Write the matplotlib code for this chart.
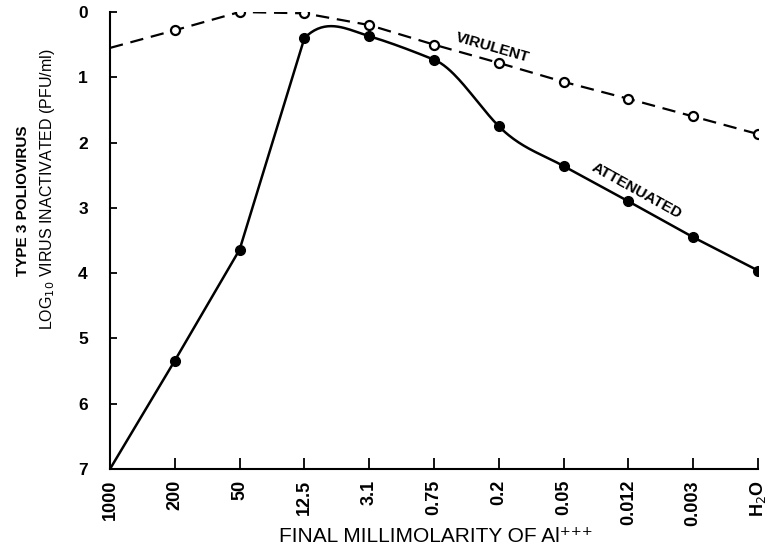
import numpy as np
import matplotlib
matplotlib.use("Agg")
import matplotlib.pyplot as plt
from matplotlib import font_manager

# ---- data ----
categories = ["1000", "200", "50", "12.5", "3.1", "0.75", "0.2", "0.05", "0.012", "0.003", "H$_2$O"]
virulent = [0.55, 0.28, 0.0, 0.02, 0.20, 0.50, 0.78, 1.07, 1.33, 1.60, 1.87]
attenuated = [7.0, 5.34, 3.64, 0.40, 0.37, 0.73, 1.75, 2.36, 2.90, 3.45, 3.96]
y_ticks = [0, 1, 2, 3, 4, 5, 6, 7]

# drawing slopes of the hand-drawn smooth part (indices 3..7) of the attenuated curve
curve_slopes = [-1.0, 0.3, 0.4, 1.0, 0.55]

plt.rcParams['font.family'] = ['Liberation Sans', 'DejaVu Sans']
names = {f.name for f in font_manager.fontManager.ttflist}
narrow = 'Liberation Sans Narrow' if 'Liberation Sans Narrow' in names else 'Liberation Sans'
label_scale = 1.2 if narrow == 'Liberation Sans Narrow' else 1.0

fig = plt.figure(figsize=(7.71, 5.48), dpi=100)
ax = fig.add_axes([110/771, 1-469/548, (758-110)/771, (469-12)/548])

x = np.arange(len(categories), dtype=float)
va = np.array(virulent)
at = np.array(attenuated)

def hermite(xs, ys, ms, n=40):
    px, py = [], []
    for i in range(len(xs) - 1):
        x0, x1 = xs[i], xs[i + 1]
        y0, y1 = ys[i], ys[i + 1]
        m0, m1 = ms[i], ms[i + 1]
        t = np.linspace(0, 1, n)
        h00 = 2*t**3 - 3*t**2 + 1
        h10 = t**3 - 2*t**2 + t
        h01 = -2*t**3 + 3*t**2
        h11 = t**3 - t**2
        px.extend(x0 + (x1 - x0) * t)
        py.extend(h00*y0 + h10*m0 + h01*y1 + h11*m1)
    return np.array(px), np.array(py)

cx, cy = hermite(x[3:8], at[3:8], curve_slopes)
lx = np.concatenate([x[:3], cx, x[8:]])
ly = np.concatenate([at[:3], cy, at[8:]])
ax.plot(lx, ly, color='black', lw=1.8, solid_capstyle='round', zorder=2)
ax.plot(x[1:], at[1:], 'o', color='black', ms=7, zorder=3)

ax.plot(x, va, color='black', lw=1.6, dashes=(6, 3.5), zorder=2)
ax.plot(x[1:], va[1:], 'o', mfc='white', mec='black', mew=1.6, ms=6.5, zorder=3)

ax.set_xlim(0, 10)
ax.set_ylim(7, 0)
ax.set_xticks(x)
ax.set_xticklabels(categories, rotation=90, fontsize=13, fontweight='bold')
ax.set_yticks(y_ticks)
ax.set_yticklabels([str(v) for v in y_ticks], fontsize=12.5, fontweight='bold')
ax.tick_params(axis='x', direction='in', length=8, width=1.3, pad=8)
ax.tick_params(axis='y', direction='in', length=5, width=1.3, pad=16)
for s in ['top', 'right']:
    ax.spines[s].set_visible(False)
for s in ['left', 'bottom']:
    ax.spines[s].set_linewidth(1.5)
    ax.spines[s].set_clip_on(False)
ax.patch.set_visible(False)

ax.text(5.9, 0.54, "VIRULENT", rotation=-16, fontsize=11, fontweight='bold',
        ha='center', va='center')
ax.text(8.13, 2.74, "ATTENUATED", rotation=-29, fontsize=11, fontweight='bold',
        ha='center', va='center')

fig.text(23/771, 1-201/548, "TYPE 3 POLIOVIRUS", rotation=90, fontsize=11*label_scale,
         fontweight='bold', ha='center', va='center', family=[narrow, 'DejaVu Sans'])
fig.text(48/771, 1-189/548, "LOG$_{10}$ VIRUS INACTIVATED (PFU/ml)", rotation=90,
         fontsize=11.5*label_scale, ha='center', va='center', family=[narrow, 'DejaVu Sans'])
fig.text(436/771, 1-536/548, "FINAL MILLIMOLARITY OF Al\u207a\u207a\u207a", fontsize=15,
         ha='center', va='center')

fig.savefig("out.png", dpi=100)
